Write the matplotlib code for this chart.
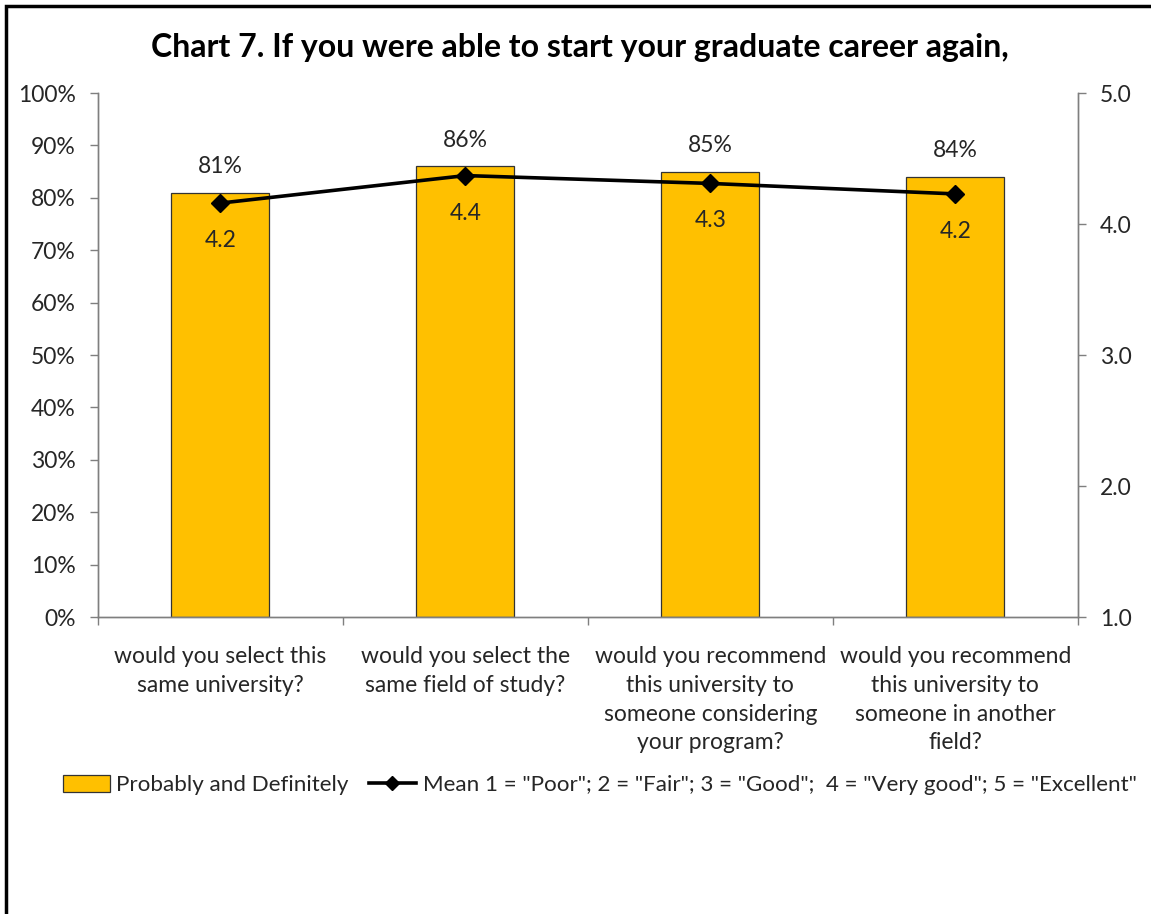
import matplotlib.pyplot as plt
from matplotlib.lines import Line2D
from matplotlib.patches import Patch, Rectangle
from matplotlib.ticker import FixedLocator, FuncFormatter

plt.rcParams['font.family'] = ['Lato', 'DejaVu Sans']

# survey questions (x axis)
questions = [
    'would you select this\nsame university?',
    'would you select the\nsame field of study?',
    'would you recommend\nthis university to\nsomeone considering\nyour program?',
    'would you recommend\nthis university to\nsomeone in another\nfield?',
]
# share answering "Probably" or "Definitely" (%)
pct_yes = [81, 86, 85, 84]
# mean rating on the 1-5 scale
mean_rating = [4.16, 4.37, 4.31, 4.23]

bar_label = 'Probably and Definitely'
line_label = 'Mean 1 = "Poor"; 2 = "Fair"; 3 = "Good";  4 = "Very good"; 5 = "Excellent"'
title = 'Chart 7. If you were able to start your graduate career again,'

gold = '#FFC000'
axis_grey = '#7f7f7f'
txt = '#262626'
fs = 16.5

fig = plt.figure(figsize=(11.51, 9.14), dpi=100)
ax = fig.add_axes([0.0851, 0.3249, 0.8514, 0.5733])
ax2 = ax.twinx()

x = list(range(len(questions)))
ax.bar(x, pct_yes, width=0.4, color=gold, edgecolor='#333333', linewidth=0.9, zorder=2)
for xi, v in zip(x, pct_yes):
    ax.annotate(f'{v:.0f}%', (xi, v), xytext=(0, 19), textcoords='offset points',
                ha='center', va='center', fontsize=fs, color=txt)

ax2.plot(x, mean_rating, color='black', linewidth=2.6, marker='D', markersize=9, zorder=3)
for xi, v in zip(x, mean_rating):
    ax2.annotate(f'{v:.1f}', (xi, v), xytext=(0, -27), textcoords='offset points',
                 ha='center', va='center', fontsize=fs, color=txt)

ax.set_xlim(-0.5, 3.5)
ax.set_ylim(0, 100)
ax2.set_ylim(1, 5)

ax.yaxis.set_major_locator(FixedLocator(range(0, 101, 10)))
ax.yaxis.set_major_formatter(FuncFormatter(lambda v, p: f'{v:.0f}%'))
ax2.yaxis.set_major_locator(FixedLocator([1, 2, 3, 4, 5]))
ax2.yaxis.set_major_formatter(FuncFormatter(lambda v, p: f'{v:.1f}'))

# category labels at bar centres, tick marks on the category boundaries
ax.set_xticks(x)
ax.set_xticklabels(questions, fontsize=fs, color=txt, linespacing=1.45)
ax.set_xticks([-0.5, 0.5, 1.5, 2.5, 3.5], minor=True)
ax.tick_params(axis='x', which='major', length=0, pad=21)
ax.tick_params(axis='x', which='minor', length=6, width=1, color=axis_grey, direction='out')
ax.tick_params(axis='y', length=6, width=1, color=axis_grey, labelsize=fs, labelcolor=txt, pad=10)
ax2.tick_params(axis='y', length=6, width=1, color=axis_grey, labelsize=fs, labelcolor=txt, pad=10)

for a in (ax, ax2):
    a.spines['top'].set_visible(False)
    for s in ('left', 'right', 'bottom'):
        a.spines[s].set_color(axis_grey)
        a.spines[s].set_linewidth(1)

fig.text(0.504, 0.9475, title, ha='center', va='center', fontsize=23,
         fontweight='bold', color='black')

handles = [
    Patch(facecolor=gold, edgecolor='#333333', linewidth=0.9),
    Line2D([], [], color='black', linewidth=2.6, marker='D', markersize=7),
]
fig.legend(handles, [bar_label, line_label], loc='center', bbox_to_anchor=(0.521, 0.141),
           ncol=2, frameon=False, fontsize=16.1, handlelength=2.1, handleheight=0.75,
           handletextpad=0.3, columnspacing=0.9, labelcolor=txt)

# outer chart border (cut off at the right and bottom)
fig.patches.append(Rectangle((6 / 1151, -0.1), 1.2, 1 - 6 / 914 + 0.1,
                             transform=fig.transFigure, fill=False,
                             edgecolor='black', linewidth=2.5))

fig.savefig('out.png', dpi=100)
